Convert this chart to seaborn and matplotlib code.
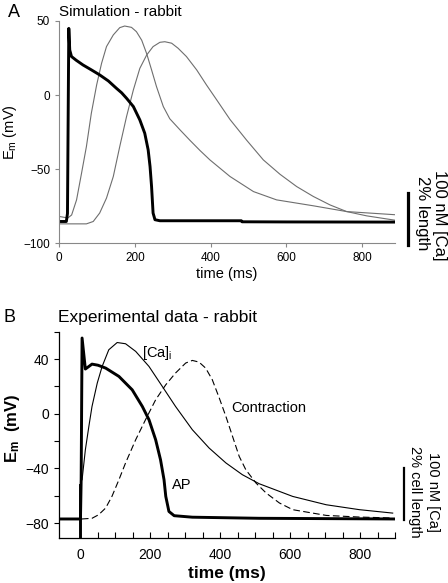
import numpy as np
import pandas as pd
import seaborn as sns
import matplotlib.pyplot as plt

# ---- panel A: simulation ----
ap_a_t = [0, 19, 22, 25.5, 28, 32.6, 45, 63, 85, 107, 130, 151, 165, 178, 196, 213, 226, 235, 240, 244, 248, 253, 266, 300, 400, 481, 483, 600, 887]
ap_a_v = [-85.4, -85.4, -80, 45, 30.4, 26, 23.5, 20.3, 17, 13.6, 9.5, 4.6, 1.5, -2.2, -7.8, -16.8, -25.8, -37, -48.3, -61.8, -79.7, -84.2, -84.9, -84.9, -84.9, -84.9, -85.6, -85.7, -85.8]

ca_a_t = [0, 23, 33, 46, 59, 72, 85, 99, 112, 125, 143, 160, 173, 191, 204, 218, 231, 244, 257, 275, 292, 319, 345, 372, 398, 451, 513, 574, 671, 759, 891]
ca_a_v = [-82, -83, -81, -70.8, -53, -34.8, -12.3, 6.8, 21.4, 32.7, 40.6, 45.5, 46.6, 45.7, 42.8, 37, 28, 17, 5.7, -7.8, -16, -23.5, -30.5, -37.5, -43.8, -55, -65.2, -70.8, -74.8, -78.7, -80.9]

con_a_t = [0, 72, 90, 107, 125, 143, 160, 178, 196, 213, 231, 248, 266, 279, 297, 314, 336, 363, 389, 416, 451, 495, 539, 583, 627, 671, 715, 759, 812, 891]
con_a_v = [-87, -87, -85.4, -79.7, -69.6, -55, -34.8, -14.5, 3.5, 18, 27, 32.7, 35.6, 36, 35, 31.6, 26, 17, 6.8, -3.3, -16.5, -30.5, -43.8, -53.5, -61.8, -68.5, -74.2, -78.7, -81.6, -84.7]

# ---- panel B: experimental data ----
ap_b_t = [-61, 0, 2, 4.6, 14, 33, 50, 72, 110, 148, 177, 196, 215, 229, 239, 244, 253, 268, 320, 511, 900]
ap_b_v = [-77, -77, -48.3, 55.4, 32.7, 36.3, 35.5, 33.4, 27.3, 17.5, 5.3, -4.4, -19, -33.7, -48.3, -60.5, -71.5, -74.6, -75.7, -76.5, -77]
stim_b_t = [0, 0]
stim_b_v = [-52, -95]

ca_b_t = [4.6, 14, 24, 33, 48, 62, 81, 105, 129, 158, 196, 234, 272, 320, 368, 416, 463, 511, 607, 703, 798, 893]
ca_b_v = [-48.3, -26.4, -9.3, 5.3, 22.4, 34.6, 46.8, 52.1, 51.2, 45.6, 34.6, 20, 5.3, -11.7, -25.1, -36, -44.6, -51.2, -60.5, -66.6, -70.2, -72.7]

con_b_t = [4, 33, 52, 72, 90, 110, 129, 158, 186, 215, 244, 272, 301, 320, 339, 358, 377, 397, 416, 435, 454, 473, 502, 531, 569, 607, 703, 798, 893]
con_b_v = [-77, -76.5, -73.9, -69, -60.5, -48.3, -36, -19, -4.4, 10.2, 21.2, 29.8, 37.1, 39, 37.8, 33.4, 24.9, 11.5, -2, -16.6, -31.2, -41, -50.7, -58, -65.3, -70.2, -74.4, -75.6, -76.3]

plt.rcParams['font.family'] = ['Liberation Sans', 'DejaVu Sans']
plt.rcParams['mathtext.fontset'] = 'custom'
plt.rcParams['mathtext.rm'] = 'Liberation Sans'
plt.rcParams['mathtext.bf'] = 'Liberation Sans:bold'

fig = plt.figure(figsize=(4.48, 5.83), dpi=100)
axA = fig.add_axes([0.132, 0.583, 0.75, 0.381])
axB = fig.add_axes([0.132, 0.077, 0.75, 0.354])

dfA_ap = pd.DataFrame({"t": ap_a_t, "v": ap_a_v})
dfA_ca = pd.DataFrame({"t": ca_a_t, "v": ca_a_v})
dfA_con = pd.DataFrame({"t": con_a_t, "v": con_a_v})

sns.lineplot(data=dfA_ca, x="t", y="v", ax=axA, color="#6e6e6e", lw=0.8, sort=False, estimator=None)
sns.lineplot(data=dfA_con, x="t", y="v", ax=axA, color="#6e6e6e", lw=0.8, sort=False, estimator=None)
sns.lineplot(data=dfA_ap, x="t", y="v", ax=axA, color="black", lw=2.1, sort=False, estimator=None)

axA.set_xlim(0, 887)
axA.set_ylim(-100, 50)
axA.set_xticks([0, 200, 400, 600, 800])
axA.set_yticks([50, 0, -50, -100])
for s in ["top", "right"]:
    axA.spines[s].set_visible(False)
for s in ["left", "bottom"]:
    axA.spines[s].set_color("#888888")
    axA.spines[s].set_linewidth(0.8)
axA.tick_params(direction="out", length=3, width=0.8, color="#888888", labelsize=8.5)
axA.set_xlabel("time (ms)", fontsize=10.5, labelpad=2)
axA.set_ylabel(r"E$_\mathregular{m}$ (mV)", fontsize=10.5)
axA.yaxis.set_label_coords(-0.118, 0.5)
fig.text(0.018, 0.978, "A", fontsize=13, va="center", ha="left")
fig.text(0.132, 0.980, "Simulation - rabbit", fontsize=11, va="center", ha="left")

# scale bar A
axA.plot([921, 921], [-66, -101.5], color="black", lw=2.3, clip_on=False)
fig.text(0.982, 0.708, "100 nM [Ca]", rotation=-90, fontsize=12, ha="center", va="top")
fig.text(0.942, 0.698, "2% length", rotation=-90, fontsize=12, ha="center", va="top")

# ---- panel B ----
dfB_ap = pd.DataFrame({"t": ap_b_t, "v": ap_b_v})
dfB_stim = pd.DataFrame({"t": stim_b_t, "v": stim_b_v})
dfB_ca = pd.DataFrame({"t": ca_b_t, "v": ca_b_v})
dfB_con = pd.DataFrame({"t": con_b_t, "v": con_b_v})

sns.lineplot(data=dfB_ca, x="t", y="v", ax=axB, color="black", lw=0.8, sort=False, estimator=None)
sns.lineplot(data=dfB_con, x="t", y="v", ax=axB, color="black", lw=0.8, sort=False, estimator=None)
axB.lines[-1].set_dashes([6, 3])
sns.lineplot(data=dfB_ap, x="t", y="v", ax=axB, color="black", lw=2.1, sort=False, estimator=None)
sns.lineplot(data=dfB_stim, x="t", y="v", ax=axB, color="black", lw=2.1, sort=False, estimator=None)

axB.set_xlim(-61, 900)
axB.set_ylim(-91, 60)
axB.set_xticks([0, 200, 400, 600, 800])
axB.set_xticks(np.arange(50, 901, 50), minor=True)
axB.set_yticks([40, 0, -40, -80])
axB.set_yticks([60, 20, -20, -60], minor=True)
for s in ["top", "right"]:
    axB.spines[s].set_visible(False)
for s in ["left", "bottom"]:
    axB.spines[s].set_linewidth(0.9)
axB.tick_params(axis="x", which="both", direction="in", length=4, width=0.8, labelsize=10, pad=7)
axB.tick_params(axis="y", which="both", direction="out", length=3.5, width=0.8, labelsize=10)
axB.set_xlabel("time (ms)", fontsize=12.5, fontweight="bold", labelpad=3)
axB.set_ylabel(r"$\mathbf{E_m}$  (mV)", fontsize=12, fontweight="bold")
axB.yaxis.set_label_coords(-0.112, 0.53)
fig.text(0.008, 0.455, "B", fontsize=13, va="center", ha="left")
fig.text(0.130, 0.455, "Experimental data - rabbit", fontsize=12.5, va="center", ha="left")

axB.text(176, 44.4, "[Ca]$_\mathregular{i}$", fontsize=10.5, va="center", ha="left")
axB.text(430, 4, "Contraction", fontsize=10.5, va="center", ha="left")
axB.text(263, -52, "AP", fontsize=10.5, va="center", ha="left")

# scale bar B
axB.plot([924, 924], [-39.5, -77.6], color="black", lw=1.6, clip_on=False)
fig.text(0.967, 0.156, "100 nM [Ca]", rotation=-90, fontsize=10.5, ha="center", va="center")
fig.text(0.927, 0.156, "2% cell length", rotation=-90, fontsize=10.5, ha="center", va="center")

fig.savefig("out.png", dpi=100)
